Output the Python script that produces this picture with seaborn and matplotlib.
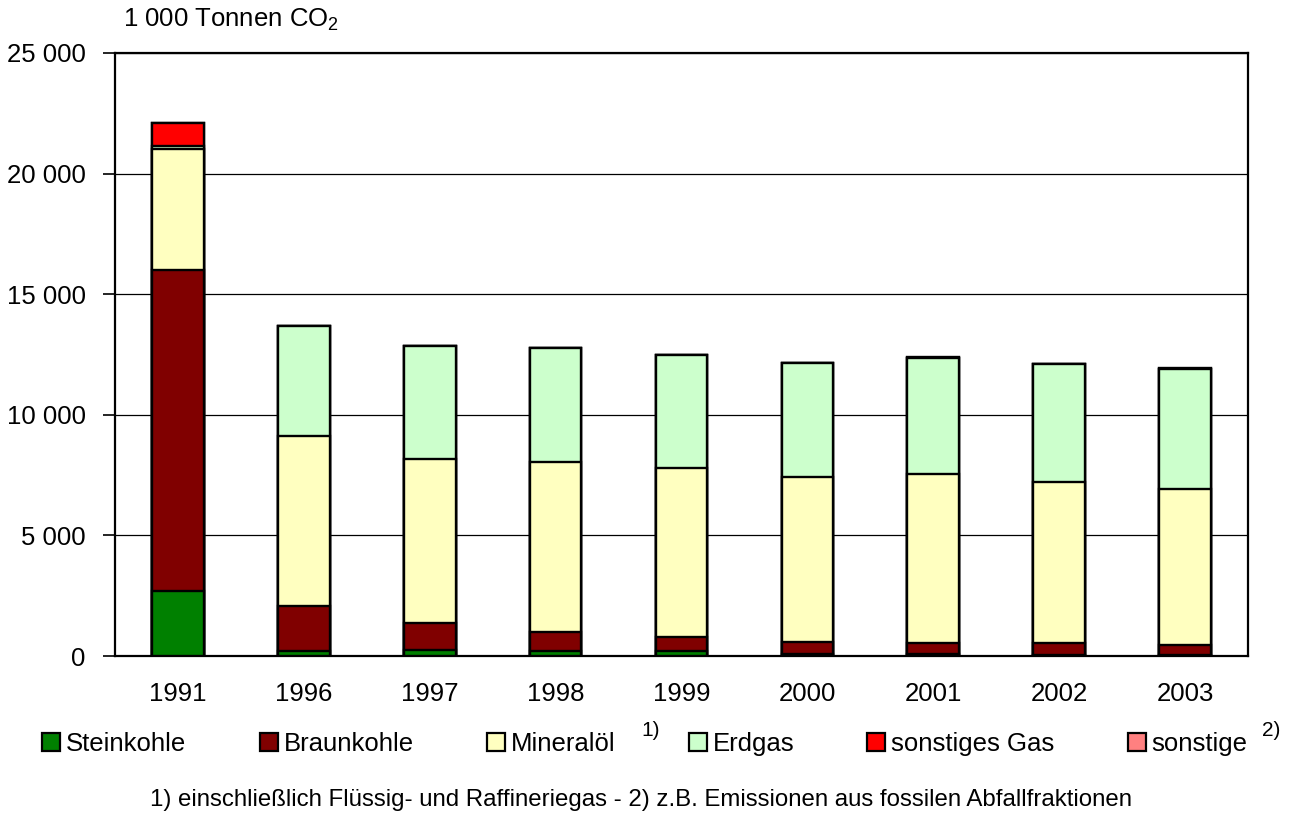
import matplotlib
matplotlib.use("Agg")
import matplotlib.pyplot as plt
from matplotlib.patches import Patch
from matplotlib.ticker import FuncFormatter, MultipleLocator
import numpy as np
import pandas as pd
import seaborn as sns

# CO2 emissions by energy source, in 1 000 tonnes
years = ["1991", "1996", "1997", "1998", "1999", "2000", "2001", "2002", "2003"]
steinkohle = [2700, 200, 250, 200, 200, 80, 70, 60, 50]
braunkohle = [13300, 1870, 1120, 780, 580, 510, 480, 460, 400]
mineraloel = [5000, 7050, 6780, 7050, 7000, 6840, 6980, 6710, 6470]
erdgas = [150, 4560, 4700, 4720, 4700, 4700, 4810, 4870, 4960]
sonstiges_gas = [950, 0, 0, 0, 0, 0, 0, 0, 0]
sonstige = [0, 0, 0, 0, 0, 0, 40, 0, 60]

series_names = ["Steinkohle", "Braunkohle", "Mineralöl", "Erdgas", "sonstiges Gas", "sonstige"]
series_values = [steinkohle, braunkohle, mineraloel, erdgas, sonstiges_gas, sonstige]
series_colors = ["#008000", "#800000", "#FFFFC0", "#CCFFCC", "#FF0000", "#FF8080"]

sns.set_style("white")
plt.rcParams["font.family"] = ["Liberation Sans", "DejaVu Sans"]
plt.rcParams["mathtext.fontset"] = "custom"
plt.rcParams["mathtext.rm"] = "Liberation Sans"
plt.rcParams["text.color"] = "black"
plt.rcParams["xtick.color"] = "black"
plt.rcParams["ytick.color"] = "black"
plt.rcParams["xtick.labelcolor"] = "black"
plt.rcParams["ytick.labelcolor"] = "black"

FS = 18.5

fig = plt.figure(figsize=(12.94, 8.17), dpi=100)
ax = fig.add_axes([115 / 1294, 1 - 656 / 817, (1248 - 115) / 1294, (656 - 53) / 817])

# stacked bars: draw cumulative totals from the top segment downwards
cumulative = np.cumsum(np.array(series_values), axis=0)
for name, color, cum in reversed(list(zip(series_names, series_colors, cumulative))):
    df = pd.DataFrame({"Jahr": years, "Wert": cum})
    sns.barplot(data=df, x="Jahr", y="Wert", order=years, color=color,
                edgecolor="black", linewidth=1.7, width=0.41, saturation=1,
                ax=ax, zorder=3)

ax.set_xlim(-0.5, len(years) - 0.5)
ax.set_ylim(0, 25000)
ax.yaxis.set_major_locator(MultipleLocator(5000))
ax.yaxis.set_major_formatter(FuncFormatter(lambda v, p: f"{v:,.0f}".replace(",", " ")))
ax.set_axisbelow(True)
ax.yaxis.grid(True, color="black", linewidth=0.9)
ax.xaxis.grid(False)
for s in ax.spines.values():
    s.set_color("black")
    s.set_linewidth(1.6)
    s.set_visible(True)
ax.tick_params(axis="y", which="major", direction="out", length=8.5, width=1.2,
               color="black", labelsize=FS, pad=12.5, left=True)
ax.tick_params(axis="x", length=0, labelsize=FS, pad=19)
ax.set_xlabel("")
ax.set_ylabel("")

fig.text(123 / 1294, 1 - 20 / 817, r"1 000 Tonnen CO$_\mathregular{2}$",
         fontsize=FS, ha="left", va="center")

handles = [Patch(facecolor=c, edgecolor="black", linewidth=1.6) for c in series_colors]
leg = fig.legend(handles, series_names, loc="center", ncol=6,
                 bbox_to_anchor=(645 / 1294, 1 - 744 / 817), frameon=False,
                 fontsize=FS, handlelength=0.7, handleheight=0.7,
                 handletextpad=0.23, columnspacing=2.85, borderpad=0)

fig.text(641 / 1294, 1 - 731 / 817, "1)", fontsize=15, ha="left", va="center")
fig.text(1262 / 1294, 1 - 731 / 817, "2)", fontsize=15, ha="left", va="center")

fig.text(641 / 1294, 1 - 800 / 817,
         "1) einschließlich Flüssig- und Raffineriegas - 2) z.B. Emissionen aus fossilen Abfallfraktionen",
         fontsize=17.3, ha="center", va="center")

fig.savefig("out.png", dpi=100, facecolor="white")
